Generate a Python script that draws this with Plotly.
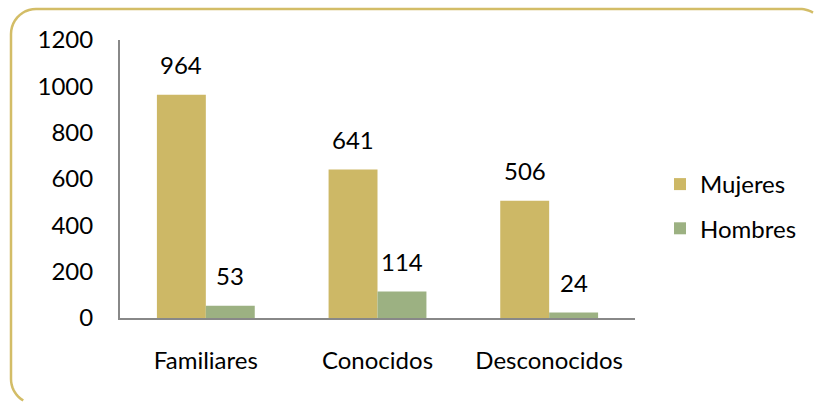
import numpy as np
import plotly.graph_objects as go

categories = ["Familiares", "Conocidos", "Desconocidos"]
mujeres = [964, 641, 506]
hombres = [53, 114, 24]
y_ticks = [0, 200, 400, 600, 800, 1000, 1200]

W, H = 814, 402
PLOT_L, PLOT_R, PLOT_T, PLOT_B = 120, 635, 40, 318   # px
L, T = PLOT_L, PLOT_T
R, B = W - PLOT_R, H - PLOT_B
PW, PH = PLOT_R - PLOT_L, PLOT_B - PLOT_T

FONT = "Lato"
FS = 24
GOLD = "#CDB866"
GREEN = "#9CB182"
BORDER = "#D3BD67"

fig = go.Figure()
fig.add_trace(go.Bar(name="Mujeres", x=categories, y=mujeres, marker_color=GOLD,
                     marker_line_width=0, legendgroup="m"))
fig.add_trace(go.Bar(name="Hombres", x=categories, y=hombres, marker_color=GREEN,
                     marker_line_width=0, legendgroup="h"))

bar_px = 49
for vals, shift in ((mujeres, -bar_px / 2), (hombres, bar_px / 2)):
    for c, v in zip(categories, vals):
        fig.add_annotation(x=c, y=v, xref="x", yref="y", text=str(v), showarrow=False,
                           xshift=shift, yanchor="middle", yshift=30,
                           font=dict(family=FONT, size=FS, color="#000"))

# visible part of the rounded frame (it runs past the right and bottom edges),
# in pixels relative to the plot's bottom-left corner
def fx(px):
    return px - PLOT_L

def fy(py):
    return PLOT_B - py

rad = 25
left, top, right_c = 11, 9, 800
bottom_c = 379
pts = []
for a in np.linspace(np.arcsin(13 / rad), 0, 8):           # top-right corner (partial)
    pts.append((right_c + rad * np.sin(a), top + rad - rad * np.cos(a)))
for a in np.linspace(0, np.pi / 2, 12):                      # top-left corner
    pts.append((left + rad - rad * np.sin(a), top + rad - rad * np.cos(a)))
for a in np.linspace(0, np.arcsin(21.5 / rad), 10):          # bottom-left corner (partial)
    pts.append((left + rad - rad * np.cos(a), bottom_c + rad * np.sin(a)))
path = "M " + " L ".join(f"{fx(px):.2f},{fy(py):.2f}" for px, py in pts)
fig.add_shape(type="path", path=path, xref="paper", yref="paper",
              xsizemode="pixel", ysizemode="pixel", xanchor=0, yanchor=0,
              line=dict(color=BORDER, width=2.5), layer="below")

fig.update_layout(
    width=W, height=H,
    margin=dict(l=L, r=R, t=T, b=B, autoexpand=False),
    paper_bgcolor="white", plot_bgcolor="white",
    barmode="group", bargap=0.43, bargroupgap=0,
    font=dict(family=FONT, size=FS, color="#000"),
    showlegend=True,
    legend=dict(x=(660 - PLOT_L) / PW, y=(PLOT_B - 162) / PH, xanchor="left", yanchor="top",
                traceorder="grouped", tracegroupgap=10,
                font=dict(family=FONT, size=FS), itemwidth=30,
                bgcolor="rgba(0,0,0,0)"),
)
fig.update_xaxes(showline=True, linecolor="#888888", linewidth=2, ticks="",
                 showgrid=False, ticklabelstandoff=20, tickfont=dict(family=FONT, size=FS),
                 automargin=False)
fig.update_yaxes(range=[0, 1200], tickvals=y_ticks, showline=True, linecolor="#888888",
                 linewidth=2, ticks="", showgrid=False, zeroline=False,
                 ticklabelstandoff=20, tickfont=dict(family=FONT, size=FS),
                 automargin=False)

fig.write_html("out.html", config={"displayModeBar": False},
               post_script="document.body.style.margin='0';"
                           "document.documentElement.style.overflow='hidden';"
                           "document.body.style.overflow='hidden';")
